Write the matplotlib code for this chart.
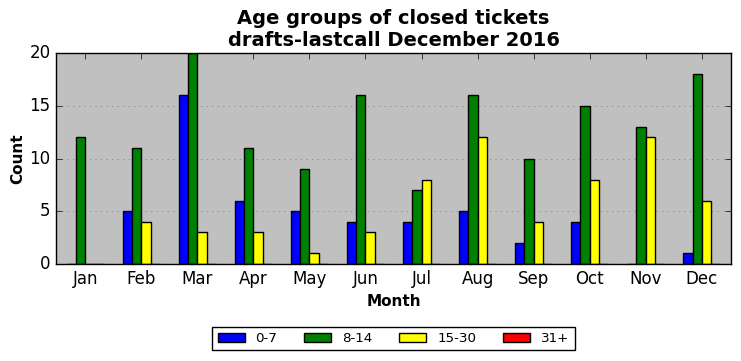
import numpy as np
import matplotlib
matplotlib.use("Agg")
import matplotlib.pyplot as plt

plt.style.use('classic')

months = ['Jan', 'Feb', 'Mar', 'Apr', 'May', 'Jun', 'Jul', 'Aug', 'Sep', 'Oct', 'Nov', 'Dec']
groups = ['0-7', '8-14', '15-30', '31+']
colors = ['blue', 'green', 'yellow', 'red']

age_0_7 = [0, 5, 16, 6, 5, 4, 4, 5, 2, 4, 0, 1]
age_8_14 = [12, 11, 20, 11, 9, 16, 7, 16, 10, 15, 13, 18]
age_15_30 = [0, 4, 3, 3, 1, 3, 8, 12, 4, 8, 12, 6]
age_31_plus = [0, 0, 0, 0, 0, 0, 0, 0, 0, 0, 0, 0]

series = [age_0_7, age_8_14, age_15_30, age_31_plus]

fig = plt.figure(figsize=(7.41, 3.61), dpi=100, facecolor='white')
ax = fig.add_axes([56 / 741, 1 - 264 / 361, 675 / 741, 211 / 361])
ax.set_facecolor('#c0c0c0')

x = np.arange(len(months))
w = 0.166
for i, (vals, name, col) in enumerate(zip(series, groups, colors)):
    ax.bar(x + (i - 2) * w, vals, w, color=col, edgecolor='black', linewidth=1, label=name, align='edge')

ax.set_xlim(-0.52, 11.52)
ax.set_ylim(0, 20)
ax.set_yticks([0, 5, 10, 15, 20])
ax.set_xticks(x)
ax.set_xticklabels(months)
ax.yaxis.grid(True, linestyle=':', color='grey')
ax.set_axisbelow(True)

ax.set_title('Age groups of closed tickets\ndrafts-lastcall December 2016', fontsize=14, fontweight='bold')
ax.set_xlabel('Month', fontsize=11, fontweight='bold')
ax.set_ylabel('Count', fontsize=11, fontweight='bold', labelpad=3)

ax.legend(loc='upper center', bbox_to_anchor=(0.5, -0.265), ncol=4, fontsize=9.7, frameon=True)

fig.savefig('out.png', dpi=100, facecolor='white')
